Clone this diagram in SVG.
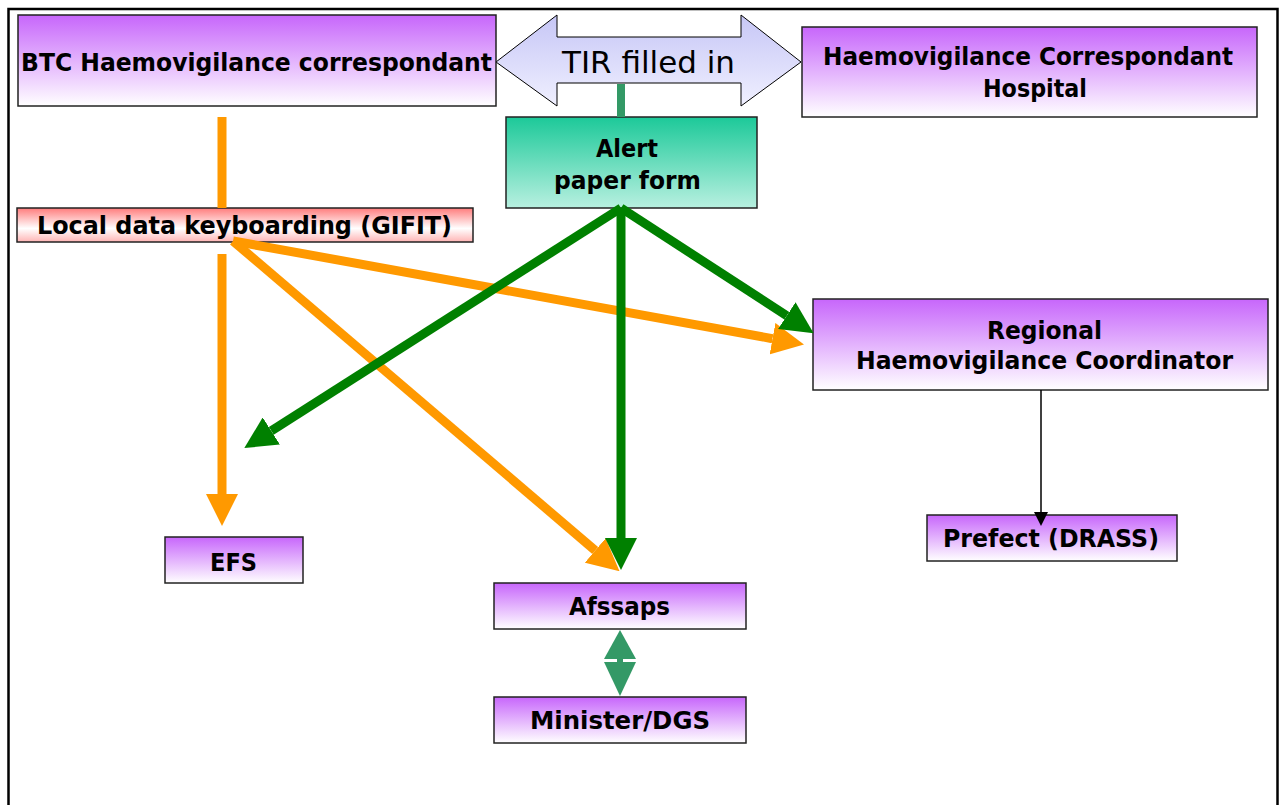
<svg xmlns="http://www.w3.org/2000/svg" width="1280" height="805" viewBox="0 0 1280 805">
<defs>
<linearGradient id="gPurple" x1="0" y1="0" x2="0" y2="1">
<stop offset="0" stop-color="#c766fb"/><stop offset="1" stop-color="#ffffff"/>
</linearGradient>
<linearGradient id="gTeal" x1="0" y1="0" x2="0" y2="1">
<stop offset="0" stop-color="#1cc999"/><stop offset="1" stop-color="#b8f0e0"/>
</linearGradient>
<linearGradient id="gPink" x1="0" y1="0" x2="0" y2="1">
<stop offset="0" stop-color="#ff7c7c"/><stop offset="0.6" stop-color="#ffffff"/><stop offset="1" stop-color="#ffb4b4"/>
</linearGradient>
<linearGradient id="gLav" x1="0" y1="0" x2="0" y2="1">
<stop offset="0" stop-color="#c6c6f6"/><stop offset="1" stop-color="#f0f0ff"/>
</linearGradient>
<marker id="aOrange" viewBox="0 0 32 32" refX="0" refY="16" markerWidth="32" markerHeight="32" markerUnits="userSpaceOnUse" orient="auto">
<path d="M0,0 L32,16 L0,32 z" fill="#ff9900"/>
</marker>
<marker id="aGreen" viewBox="0 0 32 32" refX="0" refY="16" markerWidth="32" markerHeight="32" markerUnits="userSpaceOnUse" orient="auto">
<path d="M0,0 L32,16 L0,32 z" fill="#008000"/>
</marker>
<marker id="aBlack" viewBox="0 0 14 14" refX="0" refY="7" markerWidth="14" markerHeight="14" markerUnits="userSpaceOnUse" orient="auto">
<path d="M0,0 L14,7 L0,14 z" fill="#000000"/>
</marker>
</defs>
<style>
.box{stroke:#222222;stroke-width:1.5}
.lbl{font-family:"DejaVu Sans","Liberation Sans",sans-serif;font-weight:bold;font-size:24px;fill:#000000;text-anchor:middle}
.or{stroke:#ff9900;stroke-width:9;fill:none}
.gr{stroke:#008000;stroke-width:9;fill:none}
</style>
<rect x="0" y="0" width="1280" height="805" fill="#ffffff"/>
<rect x="8.5" y="9" width="1269" height="900" fill="none" stroke="#000000" stroke-width="2.5"/>

<g id="tir">
<polygon points="496,62 557,15 557,37 741,37 741,15 801,62 741,106 741,83 557,83 557,106" fill="url(#gLav)" stroke="#000000" stroke-width="1"/>
<text x="648.5" y="73" font-family="DejaVu Sans, Liberation Sans, sans-serif" font-size="31" text-anchor="middle" textLength="173" lengthAdjust="spacingAndGlyphs" fill="#000000">TIR filled in</text>
</g>

<g id="btc">
<rect class="box" x="18" y="15" width="478" height="91" fill="url(#gPurple)"/>
<text class="lbl" x="256.5" y="71" textLength="471" lengthAdjust="spacingAndGlyphs">BTC Haemovigilance correspondant</text>
</g>

<g id="hospital">
<rect class="box" x="802" y="27" width="455" height="90" fill="url(#gPurple)"/>
<text class="lbl" x="1028" y="65" textLength="410" lengthAdjust="spacingAndGlyphs">Haemovigilance Correspondant</text>
<text class="lbl" x="1035" y="97" textLength="104" lengthAdjust="spacingAndGlyphs">Hospital</text>
</g>

<g id="alert">
<rect class="box" x="506" y="117" width="251" height="91" fill="url(#gTeal)"/>
<text class="lbl" x="627" y="157" textLength="62" lengthAdjust="spacingAndGlyphs">Alert</text>
<text class="lbl" x="627.5" y="189" textLength="147" lengthAdjust="spacingAndGlyphs">paper form</text>
</g>

<g id="local">
<rect class="box" x="17" y="208" width="456" height="34" fill="url(#gPink)"/>
<text class="lbl" x="244.5" y="234" textLength="415" lengthAdjust="spacingAndGlyphs">Local data keyboarding (GIFIT)</text>
</g>

<g id="regional">
<rect class="box" x="813" y="299" width="455" height="91" fill="url(#gPurple)"/>
<text class="lbl" x="1044.5" y="339" textLength="115" lengthAdjust="spacingAndGlyphs">Regional</text>
<text class="lbl" x="1044.5" y="369" textLength="377" lengthAdjust="spacingAndGlyphs">Haemovigilance Coordinator</text>
</g>

<g id="prefect">
<rect class="box" x="927" y="515" width="250" height="46" fill="url(#gPurple)"/>
<text class="lbl" x="1051" y="547" textLength="216" lengthAdjust="spacingAndGlyphs">Prefect (DRASS)</text>
</g>

<g id="efs">
<rect class="box" x="165" y="537" width="138" height="46" fill="url(#gPurple)"/>
<text class="lbl" x="233.5" y="571" textLength="47" lengthAdjust="spacingAndGlyphs">EFS</text>
</g>

<g id="afssaps">
<rect class="box" x="494" y="583" width="252" height="46" fill="url(#gPurple)"/>
<text class="lbl" x="619.5" y="615" textLength="101" lengthAdjust="spacingAndGlyphs">Afssaps</text>
</g>

<g id="minister">
<rect class="box" x="494" y="697" width="252" height="46" fill="url(#gPurple)"/>
<text class="lbl" x="620" y="729" textLength="180" lengthAdjust="spacingAndGlyphs">Minister/DGS</text>
</g>

<g id="connectors">
<line class="or" x1="222" y1="117" x2="222" y2="208"/>
<line class="or" x1="222" y1="254" x2="222" y2="494" marker-end="url(#aOrange)"/>
<line class="or" x1="233" y1="241" x2="772.5" y2="338.7" marker-end="url(#aOrange)"/>
<line class="or" x1="233" y1="241" x2="595.2" y2="550.5" marker-end="url(#aOrange)"/>
<line class="gr" x1="621" y1="208" x2="621" y2="538" marker-end="url(#aGreen)"/>
<line class="gr" x1="621" y1="208" x2="271.3" y2="430.9" marker-end="url(#aGreen)"/>
<line class="gr" x1="621" y1="208" x2="786.8" y2="315.7" marker-end="url(#aGreen)"/>
<line x1="621" y1="84" x2="621" y2="117" stroke="#339966" stroke-width="8"/>
<line x1="1041" y1="390" x2="1041" y2="512" stroke="#000000" stroke-width="1.5" marker-end="url(#aBlack)"/>
<g id="afssaps-minister" fill="#339966">
<polygon points="620,630 636,659 604,659"/>
<rect x="617" y="658" width="6" height="5"/>
<polygon points="604,662 636,662 620,696"/>
</g>
</g>
</svg>
